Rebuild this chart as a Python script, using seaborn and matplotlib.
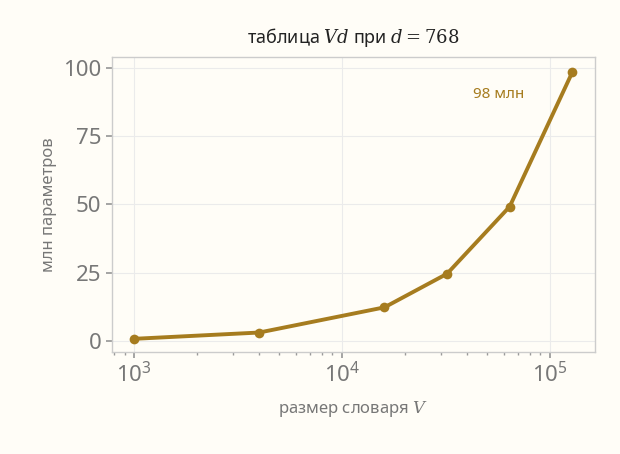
import matplotlib
matplotlib.use("Agg")
import matplotlib.pyplot as plt
import seaborn as sns
import pandas as pd

vocab = [1000, 4000, 16000, 32000, 64000, 128000]
params_m = [0.768, 3.072, 12.288, 24.576, 49.152, 98.304]
annot = "98 млн"

sns.set_theme(style="whitegrid")
plt.rcParams['font.family'] = ['Noto Sans', 'DejaVu Sans']
plt.rcParams['mathtext.fontset'] = 'dejavuserif'
bg = "#fffdf7"
col = "#a67c1f"
fig, ax = plt.subplots(figsize=(6.2, 4.54), dpi=100)
fig.patch.set_facecolor(bg)
ax.set_facecolor(bg)
df = pd.DataFrame({"V": vocab, "P": params_m})
sns.lineplot(data=df, x="V", y="P", ax=ax, color=col, lw=2.8, marker="o",
             markersize=7, markeredgewidth=0)
ax.set_xscale("log")
ax.set_xlim(780, 165000)
ax.set_ylim(-4, 104)
ax.set_yticks([0, 25, 50, 75, 100])
ax.grid(True, color="#ebebeb", lw=0.8)
for s in ax.spines.values():
    s.set_visible(True); s.set_color("#cccccc"); s.set_linewidth(1)
ax.tick_params(axis="both", labelsize=16, colors="#777777", length=4, color="#999999", bottom=True, left=True)
ax.tick_params(axis="x", which="minor", bottom=True, length=2.5, color="#999999")
ax.set_xlabel("размер словаря $V$", fontsize=12, color="#777777", labelpad=8)
ax.set_ylabel("млн параметров", fontsize=12, color="#777777")
ax.set_title("таблица $Vd$ при $d=768$", fontsize=13, color="#222222", pad=10)
ax.text(0.80, 0.86, annot, transform=ax.transAxes, color=col, fontsize=11, ha="center")
fig.subplots_adjust(left=0.18, right=0.96, top=0.875, bottom=0.225)
fig.savefig("out.png", dpi=100, facecolor=bg)
